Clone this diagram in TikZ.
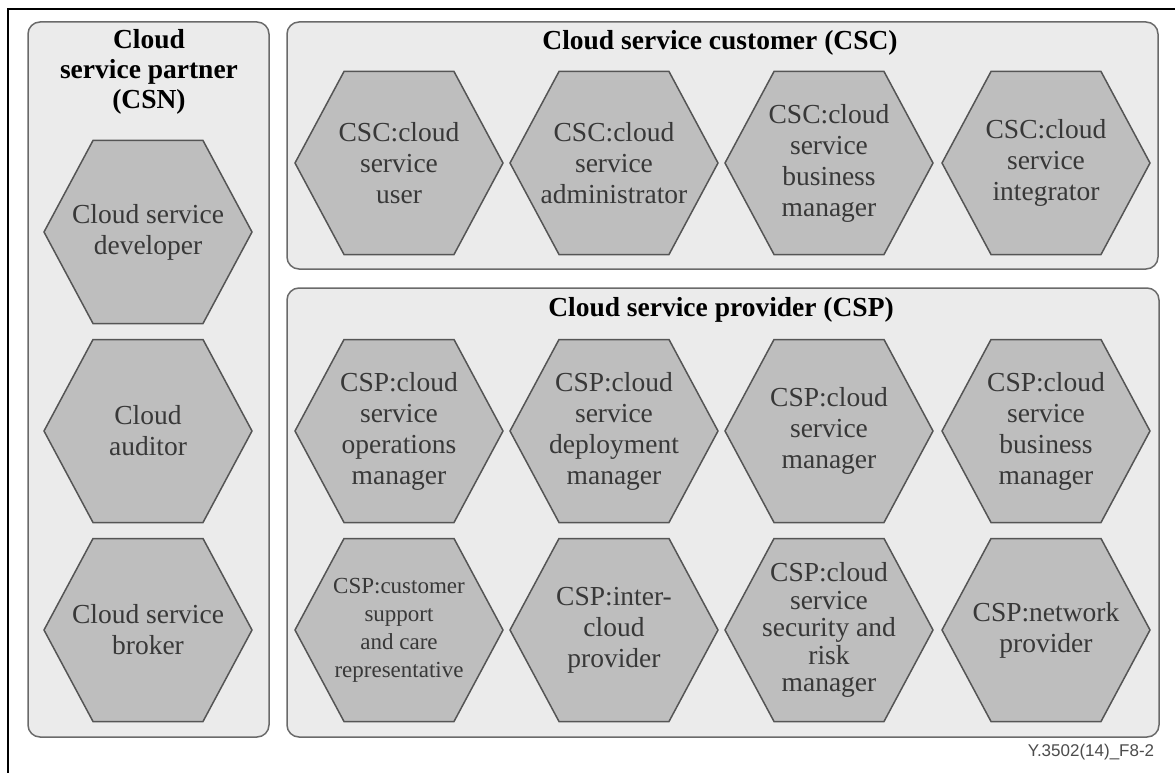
\documentclass[tikz,border=0pt]{standalone}
\usepackage{fontspec}
\setmainfont{Liberation Serif}
\newfontfamily\labelsans{Liberation Sans}
\definecolor{boxfill}{HTML}{EBEBEB}
\definecolor{boxline}{HTML}{6A6A6A}
\definecolor{hexfill}{HTML}{BEBEBE}
\definecolor{hexline}{HTML}{555555}
\definecolor{hextxt}{HTML}{383838}
\tikzset{
  groupbox/.style={draw=boxline, line width=1.5pt, fill=boxfill, rounded corners=12pt},
  hexshape/.style={draw=hexline, line width=1.5pt, fill=hexfill},
  hextext/.style={align=center, text=hextxt, inner sep=0pt, font=\fontsize{27.5}{31}\selectfont},
  titletext/.style={align=center, inner sep=0pt, font=\fontsize{27.5}{30}\selectfont\bfseries},
}
\newcommand{\hexnode}[5][]{%
  \draw[hexshape] (#3-104,#4) -- (#3-55,#4-91.5) -- (#3+55,#4-91.5) -- (#3+104,#4) -- (#3+55,#4+91.5) -- (#3-55,#4+91.5) -- cycle;
  \node[hextext,#1] (#2) at (#3,#4) {#5};%
}
\begin{document}
\begin{tikzpicture}[x=1pt,y=-1pt]
\useasboundingbox (0,0) rectangle (1175,773);
\fill[white] (0,0) rectangle (1175,773);
% outer frame
\draw[line width=2pt] (1175,9) -- (8,9) -- (8,773);
% group boxes
\draw[groupbox] (28,22) rectangle (269,737);
\draw[groupbox] (287,22) rectangle (1158,269);
\draw[groupbox] (287,288) rectangle (1159,737);
% titles
\node[titletext] (csntitle) at (149,72) {Cloud\\service partner\\(CSN)};
\node[titletext] (csctitle) at (720,43) {Cloud service customer (CSC)};
\node[titletext] (csptitle) at (721,310) {Cloud service provider (CSP)};
% CSN
\hexnode{dev}{148}{232}{Cloud service\\developer}
\hexnode{aud}{148}{431}{Cloud\\auditor}
\hexnode{brk}{148}{630}{Cloud service\\broker}
% CSC
\hexnode{cscuser}{399}{163}{CSC:cloud\\service\\user}
\hexnode{cscadmin}{614}{163}{CSC:cloud\\service\\administrator}
\hexnode{cscbiz}{829}{163}{CSC:cloud\\service\\business\\manager}
\hexnode{cscint}{1046}{163}{CSC:cloud\\service\\integrator}
% CSP row 1
\hexnode{cspops}{399}{431}{CSP:cloud\\service\\operations\\manager}
\hexnode{cspdep}{614}{431}{CSP:cloud\\service\\deployment\\manager}
\hexnode{cspmgr}{829}{431}{CSP:cloud\\service\\manager}
\hexnode{cspbiz}{1046}{431}{CSP:cloud\\service\\business\\manager}
% CSP row 2
\hexnode[font=\fontsize{23}{28}\selectfont]{cspcust}{399}{630}{CSP:customer\\support\\and care\\representative}
\hexnode{cspinter}{614}{630}{CSP:inter-\\cloud\\provider}
\hexnode[font=\fontsize{27.5}{27.5}\selectfont]{cspsec}{829}{630}{CSP:cloud\\service\\security and\\risk\\manager}
\hexnode{cspnet}{1046}{630}{CSP:network\\provider}
% figure id
\node[inner sep=0pt, text=black!70, font=\labelsans\fontsize{17}{20}\selectfont] (figid) at (1091,752) {Y.3502(14)\_F8-2};
\end{tikzpicture}
\end{document}
